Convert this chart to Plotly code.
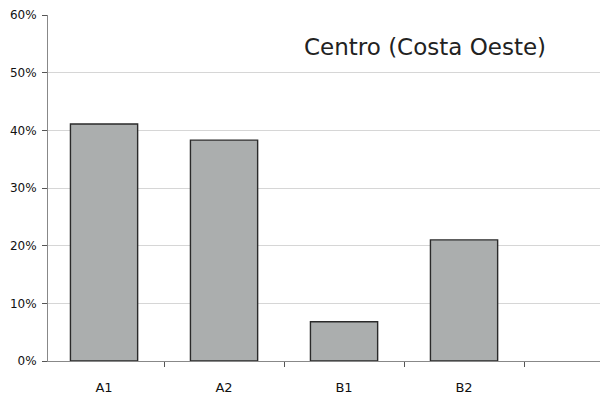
import plotly.graph_objects as go

categories = ["A1", "A2", "B1", "B2"]
values = [0.411, 0.383, 0.068, 0.210]
y_ticks = [0, 0.1, 0.2, 0.3, 0.4, 0.5, 0.6]
y_tick_labels = ["0%", "10%", "20%", "30%", "40%", "50%", "60%"]
title_text = "Centro (Costa Oeste)"

fig = go.Figure()
fig.add_trace(go.Bar(
    x=categories, y=values, width=0.56,
    marker=dict(color="#abaeae", line=dict(color="#2a2a2a", width=1.4)),
))

fig.update_layout(
    width=600, height=398,
    margin=dict(l=48, r=0, t=15, b=37),
    paper_bgcolor="white", plot_bgcolor="white",
    showlegend=False,
    font=dict(family="DejaVu Sans", color="#222"),
    annotations=[dict(
        text=title_text, xref="paper", yref="paper",
        x=0.46, y=0.9075, xanchor="left", yanchor="middle",
        showarrow=False, font=dict(family="DejaVu Sans", size=23, color="#222"),
    )],
)
fig.update_xaxes(
    type="category", range=[-0.467, 4.133], automargin=False,
    showline=True, linecolor="#888", linewidth=1,
    ticks="outside", tickson="boundaries", ticklen=5, tickcolor="#555",
    ticklabelstandoff=14,
    tickfont=dict(size=13, color="#111"), showgrid=False,
)
fig.update_yaxes(
    range=[0, 0.6], tickvals=y_ticks, ticktext=y_tick_labels, automargin=False,
    showline=True, linecolor="#888", linewidth=1,
    ticks="outside", ticklen=5, tickcolor="#555",
    ticklabelstandoff=3,
    tickfont=dict(size=12, color="#111", family="DejaVu Sans"),
    showgrid=True, gridcolor="#d6d6d6", gridwidth=1,
    zeroline=False,
)

fig.write_html(
    "out.html",
    config={"displayModeBar": False},
    post_script="document.body.style.margin='0';document.body.style.overflow='hidden';",
)
